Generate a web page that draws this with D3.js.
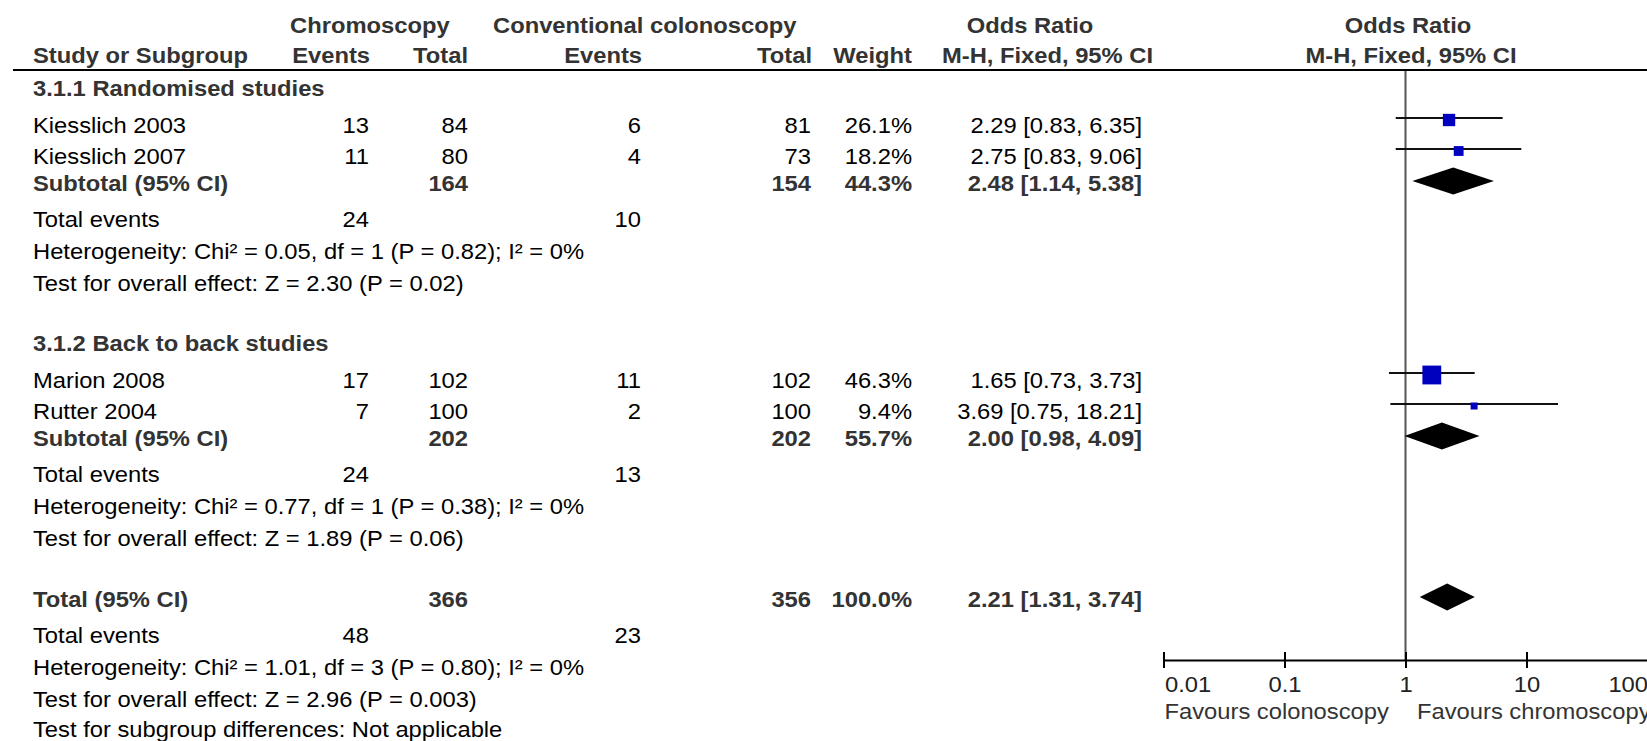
<!DOCTYPE html>
<html>
<head>
<meta charset="utf-8">
<title>Forest plot - Chromoscopy vs conventional colonoscopy</title>
<script src="https://cdn.jsdelivr.net/npm/d3@7"></script>
<style>
  html, body { margin: 0; padding: 0; background: #fff; }
  svg { display: block; font-family: "Liberation Sans", Arial, sans-serif; }
</style>
</head>
<body>
<div id="forest-container"></div>
<script>
// Studies
var studies = ['Kiesslich 2003', 'Kiesslich 2007', 'Marion 2008', 'Rutter 2004'];
var studyGroup = [0, 0, 1, 1];
var chromoEvents = [13, 11, 17, 7];
var chromoTotal = [84, 80, 102, 100];
var convEvents = [6, 4, 11, 2];
var convTotal = [81, 73, 102, 100];
var weights = [26.1, 18.2, 46.3, 9.4];
var orEst = [2.29, 2.75, 1.65, 3.69];
var orLow = [0.83, 0.83, 0.73, 0.75];
var orHigh = [6.35, 9.06, 3.73, 18.21];

// Subgroups
var subgroups = ['3.1.1 Randomised studies', '3.1.2 Back to back studies'];
var subChromoEvents = [24, 24];
var subConvEvents = [10, 13];
var subChromoTotal = [164, 202];
var subConvTotal = [154, 202];
var subWeight = [44.3, 55.7];
var subEst = [2.48, 2.00];
var subLow = [1.14, 0.98];
var subHigh = [5.38, 4.09];
var subHet = [
    'Heterogeneity: Chi\u00b2 = 0.05, df = 1 (P = 0.82); I\u00b2 = 0%',
    'Heterogeneity: Chi\u00b2 = 0.77, df = 1 (P = 0.38); I\u00b2 = 0%'
];
var subEffect = [
    'Test for overall effect: Z = 2.30 (P = 0.02)',
    'Test for overall effect: Z = 1.89 (P = 0.06)'
];

// Overall
var totalChromoEvents = 48;
var totalConvEvents = 23;
var totalChromo = 366;
var totalConv = 356;
var totalWeight = 100.0;
var totalEst = 2.21;
var totalLow = 1.31;
var totalHigh = 3.74;
var totalHet = 'Heterogeneity: Chi\u00b2 = 1.01, df = 3 (P = 0.80); I\u00b2 = 0%';
var totalEffect = 'Test for overall effect: Z = 2.96 (P = 0.003)';
var subgroupNote = 'Test for subgroup differences: Not applicable';

// Axis
var tickValues = [0.01, 0.1, 1, 10, 100];
var tickLabels = ['0.01', '0.1', '1', '10', '100'];
var favoursLeft = 'Favours colonoscopy';
var favoursRight = 'Favours chromoscopy';

(function() {
    'use strict';

    var width = 1647, height = 741;
    var fontSize = 22, stretch = 1.08;
    var f2 = d3.format('.2f'), f1 = d3.format('.1f');

    var col = { study: 33, ev1: 369, tot1: 468, ev2: 641, tot2: 811, weight: 912, or: 1142 };

    var svg = d3.select('#forest-container').append('svg')
        .attr('width', width)
        .attr('height', height)
        .attr('viewBox', [0, 0, width, height].join(' '))
        .style('font-size', fontSize + 'px');

    svg.append('rect').attr('width', width).attr('height', height).attr('fill', '#fff');

    // the reference text is a bit wider than plain Arial
    function label(x, y, str, opts) {
        opts = opts || {};
        return svg.append('text')
            .attr('transform', 'translate(' + x + ',' + y + ') scale(' + stretch + ',1)')
            .attr('text-anchor', opts.anchor || 'start')
            .attr('font-weight', opts.bold ? 700 : 400)
            .attr('fill', opts.fill || (opts.bold ? '#333' : '#000'))
            .text(str);
    }

    function ci(est, lo, hi) {
        return f2(est) + ' [' + f2(lo) + ', ' + f2(hi) + ']';
    }

    // Headers
    label(290, 33, 'Chromoscopy', { bold: true });
    label(493, 33, 'Conventional colonoscopy', { bold: true });
    label(1030, 33, 'Odds Ratio', { bold: true, anchor: 'middle' });
    label(1408, 33, 'Odds Ratio', { bold: true, anchor: 'middle' });

    label(col.study, 63, 'Study or Subgroup', { bold: true });
    label(370, 63, 'Events', { bold: true, anchor: 'end' });
    label(468, 63, 'Total', { bold: true, anchor: 'end' });
    label(642, 63, 'Events', { bold: true, anchor: 'end' });
    label(812, 63, 'Total', { bold: true, anchor: 'end' });
    label(912, 63, 'Weight', { bold: true, anchor: 'end' });
    label(1153, 63, 'M-H, Fixed, 95% CI', { bold: true, anchor: 'end' });
    label(1411, 63, 'M-H, Fixed, 95% CI', { bold: true, anchor: 'middle' });

    svg.append('line')
        .attr('x1', 13).attr('x2', width)
        .attr('y1', 70).attr('y2', 70)
        .attr('stroke', '#000').attr('stroke-width', 2);

    // Forest scales
    var axisY = 660;
    var x = d3.scaleLog().domain([0.01, 100]).range([1163.5, 1647.5]);
    var side = d3.scaleLinear().domain([0, 100]).range([4, 36]);

    svg.append('line')
        .attr('x1', x(1)).attr('x2', x(1))
        .attr('y1', 71).attr('y2', axisY)
        .attr('stroke', '#555').attr('stroke-width', 2);

    var marks = svg.append('g');

    // Row list
    var rows = [];
    subgroups.forEach(function(name, g) {
        rows.push({ type: 'group', g: g });
        studies.forEach(function(s, i) {
            if (studyGroup[i] === g) rows.push({ type: 'study', i: i });
        });
        rows.push({ type: 'subtotal', g: g });
        rows.push({ type: 'events', g: g });
        rows.push({ type: 'het', g: g });
        rows.push({ type: 'effect', g: g });
    });
    rows.push({ type: 'total' });
    rows.push({ type: 'events', g: -1 });
    rows.push({ type: 'het', g: -1 });
    rows.push({ type: 'effect', g: -1 });
    rows.push({ type: 'note' });

    var gaps = {
        group: { study: 37 },
        study: { study: 31, subtotal: 27 },
        subtotal: { events: 36 },
        total: { events: 36 },
        events: { het: 32 },
        het: { effect: 32 },
        effect: { group: 60, total: 61, note: 30 }
    };

    function diamond(y, est, lo, hi) {
        var h = 13.5;
        marks.append('path')
            .attr('d', 'M' + x(lo) + ',' + y + 'L' + x(est) + ',' + (y - h) +
                'L' + x(hi) + ',' + y + 'L' + x(est) + ',' + (y + h) + 'Z')
            .attr('fill', '#000');
    }

    var y = 96;
    rows.forEach(function(row, k) {
        if (k > 0) y += gaps[rows[k - 1].type][row.type];
        var g = row.g;

        if (row.type === 'group') {
            label(col.study, y, subgroups[g], { bold: true });
        } else if (row.type === 'study') {
            var i = row.i;
            label(col.study, y, studies[i]);
            label(col.ev1, y, chromoEvents[i], { anchor: 'end' });
            label(col.tot1, y, chromoTotal[i], { anchor: 'end' });
            label(col.ev2, y, convEvents[i], { anchor: 'end' });
            label(col.tot2, y, convTotal[i], { anchor: 'end' });
            label(col.weight, y, f1(weights[i]) + '%', { anchor: 'end' });
            label(col.or, y, ci(orEst[i], orLow[i], orHigh[i]), { anchor: 'end' });

            marks.append('line')
                .attr('x1', x(orLow[i])).attr('x2', x(orHigh[i]))
                .attr('y1', y - 15).attr('y2', y - 15)
                .attr('stroke', '#111').attr('stroke-width', 2);
            var s = side(weights[i]);
            marks.append('rect')
                .attr('x', x(orEst[i]) - s / 2)
                .attr('y', y - 13 - s / 2)
                .attr('width', s).attr('height', s)
                .attr('fill', '#0000bf');
        } else if (row.type === 'subtotal' || row.type === 'total') {
            var isTotal = row.type === 'total';
            label(col.study, y, isTotal ? 'Total (95% CI)' : 'Subtotal (95% CI)', { bold: true });
            label(col.tot1, y, isTotal ? totalChromo : subChromoTotal[g], { bold: true, anchor: 'end' });
            label(col.tot2, y, isTotal ? totalConv : subConvTotal[g], { bold: true, anchor: 'end' });
            label(col.weight, y, f1(isTotal ? totalWeight : subWeight[g]) + '%', { bold: true, anchor: 'end' });
            label(col.or, y, isTotal ? ci(totalEst, totalLow, totalHigh) : ci(subEst[g], subLow[g], subHigh[g]),
                { bold: true, anchor: 'end' });
            if (isTotal) diamond(y - 10, totalEst, totalLow, totalHigh);
            else diamond(y - 10, subEst[g], subLow[g], subHigh[g]);
        } else if (row.type === 'events') {
            label(col.study, y, 'Total events');
            label(col.ev1, y, g < 0 ? totalChromoEvents : subChromoEvents[g], { anchor: 'end' });
            label(col.ev2, y, g < 0 ? totalConvEvents : subConvEvents[g], { anchor: 'end' });
        } else if (row.type === 'het') {
            label(col.study, y, g < 0 ? totalHet : subHet[g]);
        } else if (row.type === 'effect') {
            label(col.study, y, g < 0 ? totalEffect : subEffect[g]);
        } else if (row.type === 'note') {
            label(col.study, y, subgroupNote);
        }
    });

    // Axis
    var axis = d3.axisBottom(x)
        .tickValues(tickValues)
        .tickFormat(function(d, i) { return tickLabels[i]; })
        .tickSizeInner(8)
        .tickSizeOuter(0)
        .tickPadding(0);

    var ag = svg.append('g')
        .attr('transform', 'translate(0,' + axisY + ')')
        .call(axis)
        .attr('font-family', null)
        .attr('font-size', null);

    ag.select('.domain').attr('stroke', '#000').attr('stroke-width', 2);
    ag.selectAll('.tick line')
        .attr('y1', -8).attr('y2', 8)
        .attr('stroke', '#000').attr('stroke-width', 2);
    ag.selectAll('.tick text')
        .attr('y', 32).attr('dy', null)
        .attr('x', function(d, i) { return i === 0 ? 1 : 0; })
        .attr('transform', 'scale(' + stretch + ',1)')
        .attr('fill', '#222')
        .attr('text-anchor', function(d, i) {
            return i === 0 ? 'start' : (i === tickValues.length - 1 ? 'end' : 'middle');
        });

    label(x(0.01) + 1, 719, favoursLeft, { fill: '#333' });
    label(1417, 719, favoursRight, { fill: '#333' });
})();
</script>
</body>
</html>
